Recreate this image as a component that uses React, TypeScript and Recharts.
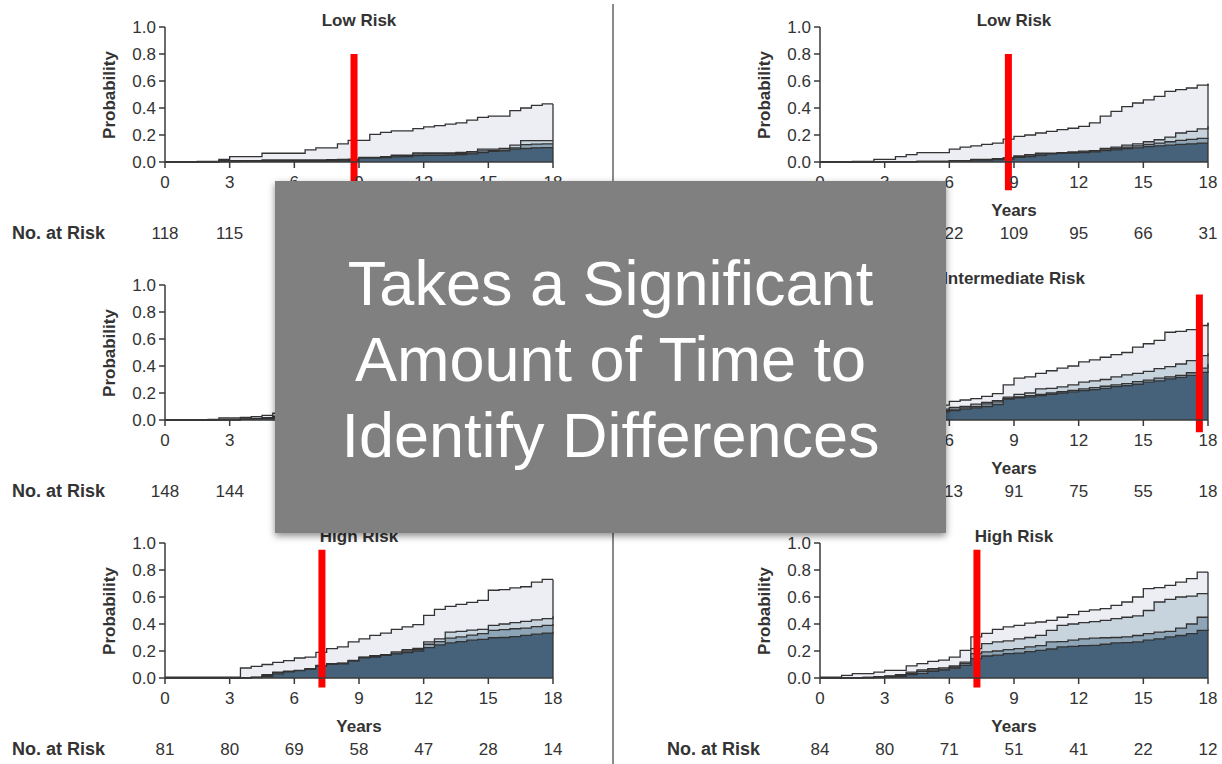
import React from 'react';
import { AreaChart, Area, XAxis, YAxis, ReferenceLine } from 'recharts';

const FONT = "'Liberation Sans', Arial, sans-serif";

// time grid (years)
const YEARS = [0, 0.5, 1, 1.5, 2, 2.5, 3, 3.5, 4, 4.5, 5, 5.5, 6, 6.5, 7, 7.5, 8, 8.5, 9, 9.5, 10, 10.5, 11, 11.5, 12, 12.5, 13, 13.5, 14, 14.5, 15, 15.5, 16, 16.5, 17, 17.5, 18];
const YEAR_TICKS = [0, 3, 6, 9, 12, 15, 18];
const PROB_TICKS = [0, 0.2, 0.4, 0.6, 0.8, 1.0];

// Low risk (left) – cumulative probabilities, top layer first
const LOWL_S4 = [0, 0, 0, .005, .005, .02, .04, .04, .04, .065, .065, .065, .065, .09, .105, .105, .135, .16, .16, .205, .22, .23, .23, .247, .26, .27, .28, .29, .31, .33, .34, .34, .38, .40, .42, .43, .43];
const LOWL_S3 = [0, 0, 0, .003, .003, .01, .01, .01, .01, .015, .015, .015, .015, .015, .015, .018, .02, .022, .035, .035, .04, .05, .05, .067, .067, .067, .067, .072, .077, .096, .096, .1, .125, .158, .158, .158, .158];
const LOWL_S2 = [0, 0, 0, .002, .002, .008, .008, .008, .008, .01, .01, .01, .01, .01, .01, .013, .015, .017, .03, .03, .035, .045, .045, .06, .062, .062, .062, .065, .068, .082, .085, .088, .105, .128, .133, .135, .135];
const LOWL_S1 = [0, 0, 0, 0, 0, .003, .003, .005, .005, .005, .005, .005, .005, .005, .005, .006, .008, .01, .028, .028, .032, .038, .04, .048, .05, .05, .052, .055, .06, .07, .078, .082, .095, .1, .105, .107, .107];
const LOWL_RISK = [118, 115, 112, 104, 93, 71, 34];

// Low risk (right)
const LOWR_S4 = [0, 0, 0, .005, .005, .02, .02, .04, .054, .07, .07, .07, .096, .11, .12, .13, .14, .17, .19, .20, .215, .227, .24, .25, .264, .29, .34, .375, .41, .437, .46, .486, .523, .536, .548, .57, .58];
const LOWR_S3 = [0, 0, 0, .002, .002, .003, .003, .003, .003, .005, .005, .005, .01, .01, .02, .02, .025, .03, .045, .055, .065, .065, .07, .075, .08, .085, .10, .11, .125, .135, .15, .165, .185, .215, .227, .245, .264];
const LOWR_S2 = [0, 0, 0, .001, .001, .002, .002, .002, .002, .004, .004, .004, .008, .008, .018, .018, .022, .028, .04, .045, .06, .062, .066, .07, .075, .08, .09, .10, .11, .12, .13, .14, .15, .16, .168, .175, .178];
const LOWR_S1 = [0, 0, 0, 0, 0, .001, .001, .001, .001, .003, .003, .003, .006, .006, .015, .015, .018, .022, .035, .04, .05, .06, .064, .066, .07, .075, .085, .09, .1, .105, .115, .12, .125, .13, .135, .14, .14];
const LOWR_RISK = [126, 125, 122, 109, 95, 66, 31];

// Intermediate risk (left)
const INTL_S4 = [0, 0, 0, 0, .005, .015, .015, .02, .025, .035, .05, .062, .08, .09, .11, .125, .14, .17, .19, .21, .225, .25, .27, .285, .31, .33, .345, .37, .39, .41, .44, .46, .48, .5, .53, .55, .55];
const INTL_S3 = [0, 0, 0, 0, 0, .003, .003, .008, .012, .018, .028, .036, .045, .055, .066, .078, .09, .105, .12, .132, .145, .16, .172, .185, .2, .215, .228, .24, .255, .27, .285, .3, .315, .33, .345, .36, .36];
const INTL_S2 = [0, 0, 0, 0, 0, .002, .002, .006, .01, .015, .024, .03, .038, .046, .056, .066, .076, .09, .1, .11, .12, .132, .142, .152, .165, .176, .186, .196, .208, .22, .232, .244, .255, .266, .278, .29, .29];
const INTL_S1 = [0, 0, 0, 0, 0, .001, .001, .004, .008, .012, .02, .026, .033, .04, .05, .058, .068, .08, .09, .098, .108, .118, .126, .135, .146, .156, .165, .174, .184, .195, .205, .215, .225, .235, .245, .255, .255];
const INTL_RISK = [148, 144, 138, 125, 104, 78, 36];

// Intermediate risk (right)
const INTR_S4 = [0, .005, .01, .018, .025, .03, .04, .05, .06, .075, .09, .11, .138, .148, .158, .175, .195, .26, .31, .32, .345, .365, .385, .40, .43, .445, .465, .485, .50, .54, .565, .59, .65, .657, .67, .70, .72];
const INTR_S3 = [0, .003, .006, .012, .018, .022, .03, .038, .045, .055, .065, .08, .094, .1, .118, .13, .143, .17, .19, .2, .23, .235, .245, .26, .28, .29, .30, .32, .335, .345, .36, .38, .395, .415, .44, .477, .494];
const INTR_S2 = [0, .002, .005, .01, .015, .018, .025, .032, .04, .048, .058, .07, .08, .09, .1, .12, .135, .16, .172, .18, .19, .2, .21, .22, .23, .24, .25, .26, .27, .285, .296, .31, .32, .33, .35, .385, .415];
const INTR_S1 = [0, .002, .004, .008, .012, .015, .02, .028, .034, .042, .05, .06, .07, .08, .09, .1, .115, .155, .165, .172, .18, .19, .2, .208, .217, .225, .235, .247, .255, .265, .28, .29, .305, .316, .33, .353, .365];
const INTR_RISK = [120, 118, 113, 91, 75, 55, 18];

// High risk (left)
const HIGHL_S4 = [.007, .007, .007, .007, .007, .007, .007, .074, .086, .1, .116, .128, .148, .155, .19, .217, .23, .267, .29, .316, .333, .36, .378, .395, .464, .509, .53, .546, .56, .575, .65, .655, .667, .676, .71, .73, .73];
const HIGHL_S3 = [0, 0, 0, 0, 0, 0, 0, .003, .007, .025, .044, .05, .057, .07, .094, .106, .11, .13, .155, .165, .173, .193, .21, .22, .267, .29, .34, .345, .355, .36, .39, .40, .41, .42, .43, .44, .457];
const HIGHL_S2 = [0, 0, 0, 0, 0, 0, 0, .002, .005, .02, .04, .047, .055, .068, .09, .104, .108, .128, .153, .16, .17, .185, .2, .21, .25, .27, .295, .304, .318, .328, .353, .358, .365, .37, .38, .39, .40];
const HIGHL_S1 = [0, 0, 0, 0, 0, 0, 0, 0, .003, .01, .03, .045, .055, .065, .088, .102, .105, .125, .15, .155, .168, .178, .188, .2, .225, .245, .26, .27, .28, .286, .298, .30, .306, .316, .325, .333, .34];
const HIGHL_RISK = [81, 80, 69, 58, 47, 28, 14];

// High risk (right)
const HIGHR_S4 = [.007, .007, .02, .032, .032, .044, .057, .057, .09, .106, .123, .133, .155, .205, .304, .33, .36, .378, .39, .407, .415, .427, .45, .47, .494, .505, .514, .538, .563, .60, .662, .67, .686, .71, .736, .785, .785];
const HIGHR_S3 = [0, 0, .003, .003, .005, .01, .015, .025, .044, .06, .07, .075, .089, .118, .217, .254, .267, .275, .29, .3, .316, .353, .39, .4, .41, .418, .427, .44, .45, .46, .50, .563, .583, .6, .607, .625, .625];
const HIGHR_S2 = [0, 0, .002, .002, .004, .008, .012, .02, .035, .05, .06, .066, .081, .106, .18, .193, .2, .21, .217, .23, .24, .267, .27, .28, .29, .295, .298, .30, .305, .315, .328, .34, .346, .37, .40, .45, .45];
const HIGHR_S1 = [0, 0, 0, 0, 0, .003, .006, .012, .025, .035, .05, .058, .074, .094, .143, .163, .17, .18, .185, .195, .205, .215, .23, .235, .24, .242, .25, .26, .262, .267, .28, .29, .304, .315, .328, .353, .36];
const HIGHR_RISK = [84, 80, 71, 51, 41, 22, 12];

// red highlight markers: [year, top prob, bottom prob]
const MARK_LOWL = [8.77, 0.8, -0.22];
const MARK_LOWR = [8.74, 0.8, -0.21];
const MARK_INTR = [17.6, 0.93, -0.09];
const MARK_HIGHL = [7.28, 0.95, -0.07];
const MARK_HIGHR = [7.28, 0.95, -0.07];

const FILLS = ['#eceef4', '#c7d3dd', '#8ea5b7', '#46627a'];
const LINE = '#333333';
const AXIS = '#3a3a3a';

const PLOT_W = 388;
const PLOT_H = 135;

type PanelDef = {
  plotX: number;
  plotTop: number;
  title: string;
  series: number[][];
  risk: number[];
  mark?: number[];
};

const PANELS: PanelDef[] = [
  { plotX: 165, plotTop: 27.3, title: 'Low Risk', series: [LOWL_S4, LOWL_S3, LOWL_S2, LOWL_S1], risk: LOWL_RISK, mark: MARK_LOWL },
  { plotX: 820, plotTop: 27.3, title: 'Low Risk', series: [LOWR_S4, LOWR_S3, LOWR_S2, LOWR_S1], risk: LOWR_RISK, mark: MARK_LOWR },
  { plotX: 165, plotTop: 285, title: 'Intermediate Risk', series: [INTL_S4, INTL_S3, INTL_S2, INTL_S1], risk: INTL_RISK },
  { plotX: 820, plotTop: 284.5, title: 'Intermediate Risk', series: [INTR_S4, INTR_S3, INTR_S2, INTR_S1], risk: INTR_RISK, mark: MARK_INTR },
  { plotX: 165, plotTop: 543, title: 'High Risk', series: [HIGHL_S4, HIGHL_S3, HIGHL_S2, HIGHL_S1], risk: HIGHL_RISK, mark: MARK_HIGHL },
  { plotX: 820, plotTop: 543, title: 'High Risk', series: [HIGHR_S4, HIGHR_S3, HIGHR_S2, HIGHR_S1], risk: HIGHR_RISK, mark: MARK_HIGHR },
];

const KEYS = ['s4', 's3', 's2', 's1'];

function makeTick(risk: number[]) {
  return (props: any) => {
    const { x, y, payload } = props;
    const idx = YEAR_TICKS.indexOf(payload.value);
    return (
      <g>
        <text x={x} y={y + 18} textAnchor="middle" fontSize={17} fill="#333" fontFamily={FONT}>
          {payload.value}
        </text>
        <text x={x} y={y + 69} textAnchor="middle" fontSize={17} fill="#333" fontFamily={FONT}>
          {risk[idx]}
        </text>
      </g>
    );
  };
}

function Panel({ p }: { p: PanelDef }) {
  const data = YEARS.map((t, i) => ({
    t,
    s4: p.series[0][i],
    s3: p.series[1][i],
    s2: p.series[2][i],
    s1: p.series[3][i],
  }));
  const last = p.series[0][p.series[0].length - 1];
  const left = p.plotX - 70;
  const top = p.plotTop - 10;
  return (
    <>
      <div style={{ position: 'absolute', left, top, width: 478, height: 235 }}>
        <AreaChart width={478} height={235} data={data} margin={{ top: 10, right: 20, bottom: 0, left: 10 }}>
          <XAxis
            dataKey="t"
            type="number"
            domain={[0, 18]}
            ticks={YEAR_TICKS}
            height={90}
            tickSize={6}
            tickMargin={2}
            interval={0}
            axisLine={{ stroke: AXIS, strokeWidth: 1.5 }}
            tickLine={{ stroke: AXIS, strokeWidth: 1.5 }}
            tick={makeTick(p.risk)}
            label={{ value: 'Years', position: 'insideBottom', offset: 36, style: { fontWeight: 700, fontSize: 17, fill: '#333', fontFamily: FONT } }}
          />
          <YAxis
            type="number"
            domain={[0, 1]}
            ticks={PROB_TICKS}
            width={60}
            tickSize={6}
            tickMargin={3}
            interval={0}
            tickFormatter={(v: number) => v.toFixed(1)}
            axisLine={{ stroke: AXIS, strokeWidth: 1.5 }}
            tickLine={{ stroke: AXIS, strokeWidth: 1.5 }}
            tick={{ fontSize: 17, fill: '#333', fontFamily: FONT }}
          />
          {KEYS.map((k, i) => (
            <Area
              key={k}
              dataKey={k}
              type="stepAfter"
              stroke={LINE}
              strokeWidth={1.3}
              fill={FILLS[i]}
              fillOpacity={1}
              isAnimationActive={false}
              dot={false}
              activeDot={false}
            />
          ))}
          <ReferenceLine
            segment={[{ x: 18, y: 0 }, { x: 18, y: last }]}
            stroke={LINE}
            strokeWidth={1.3}
          />
          {p.mark && (
            <ReferenceLine
              segment={[{ x: p.mark[0], y: p.mark[1] }, { x: p.mark[0], y: p.mark[2] }]}
              stroke="#ff0000"
              strokeWidth={7}
              ifOverflow="visible"
            />
          )}
        </AreaChart>
      </div>
      <div
        style={{
          position: 'absolute',
          left: p.plotX + PLOT_W / 2 - 150,
          width: 300,
          top: p.plotTop - 16,
          height: 20,
          lineHeight: '20px',
          textAlign: 'center',
          fontFamily: FONT,
          fontWeight: 700,
          fontSize: 17,
          color: '#333',
        }}
      >
        {p.title}
      </div>
      <div
        style={{
          position: 'absolute',
          left: p.plotX - 55 - 60,
          top: p.plotTop + PLOT_H / 2 - 10,
          width: 120,
          height: 20,
          lineHeight: '20px',
          textAlign: 'center',
          transform: 'rotate(-90deg)',
          fontFamily: FONT,
          fontWeight: 700,
          fontSize: 17,
          color: '#333',
        }}
      >
        Probability
      </div>
      <div
        style={{
          position: 'absolute',
          left: p.plotX - 153,
          top: p.plotTop + PLOT_H + 71 - 11,
          height: 22,
          lineHeight: '22px',
          fontFamily: FONT,
          fontWeight: 700,
          fontSize: 18,
          color: '#333',
          whiteSpace: 'nowrap',
        }}
      >
        No. at Risk
      </div>
    </>
  );
}

export default function App() {
  return (
    <div style={{ position: 'absolute', left: 0, top: 0, width: 1222, height: 764, background: '#fff', overflow: 'hidden' }}>
      {PANELS.map((p, i) => (
        <Panel key={i} p={p} />
      ))}
      <div style={{ position: 'absolute', left: 612, top: 4, width: 2, height: 760, background: '#8a8a8a' }} />
      <div
        style={{
          position: 'absolute',
          left: 275,
          top: 181,
          width: 671,
          height: 352,
          background: '#808080',
          boxShadow: '0 3px 7px rgba(0,0,0,0.45)',
        }}
      >
        <div
          style={{
            position: 'absolute',
            left: 0,
            right: 0,
            top: 64,
            textAlign: 'center',
            color: '#fff',
            fontFamily: FONT,
            fontSize: 63,
            lineHeight: '76px',
          }}
        >
          <div>Takes a Significant</div>
          <div>Amount of Time to</div>
          <div>Identify Differences</div>
        </div>
      </div>
    </div>
  );
}
